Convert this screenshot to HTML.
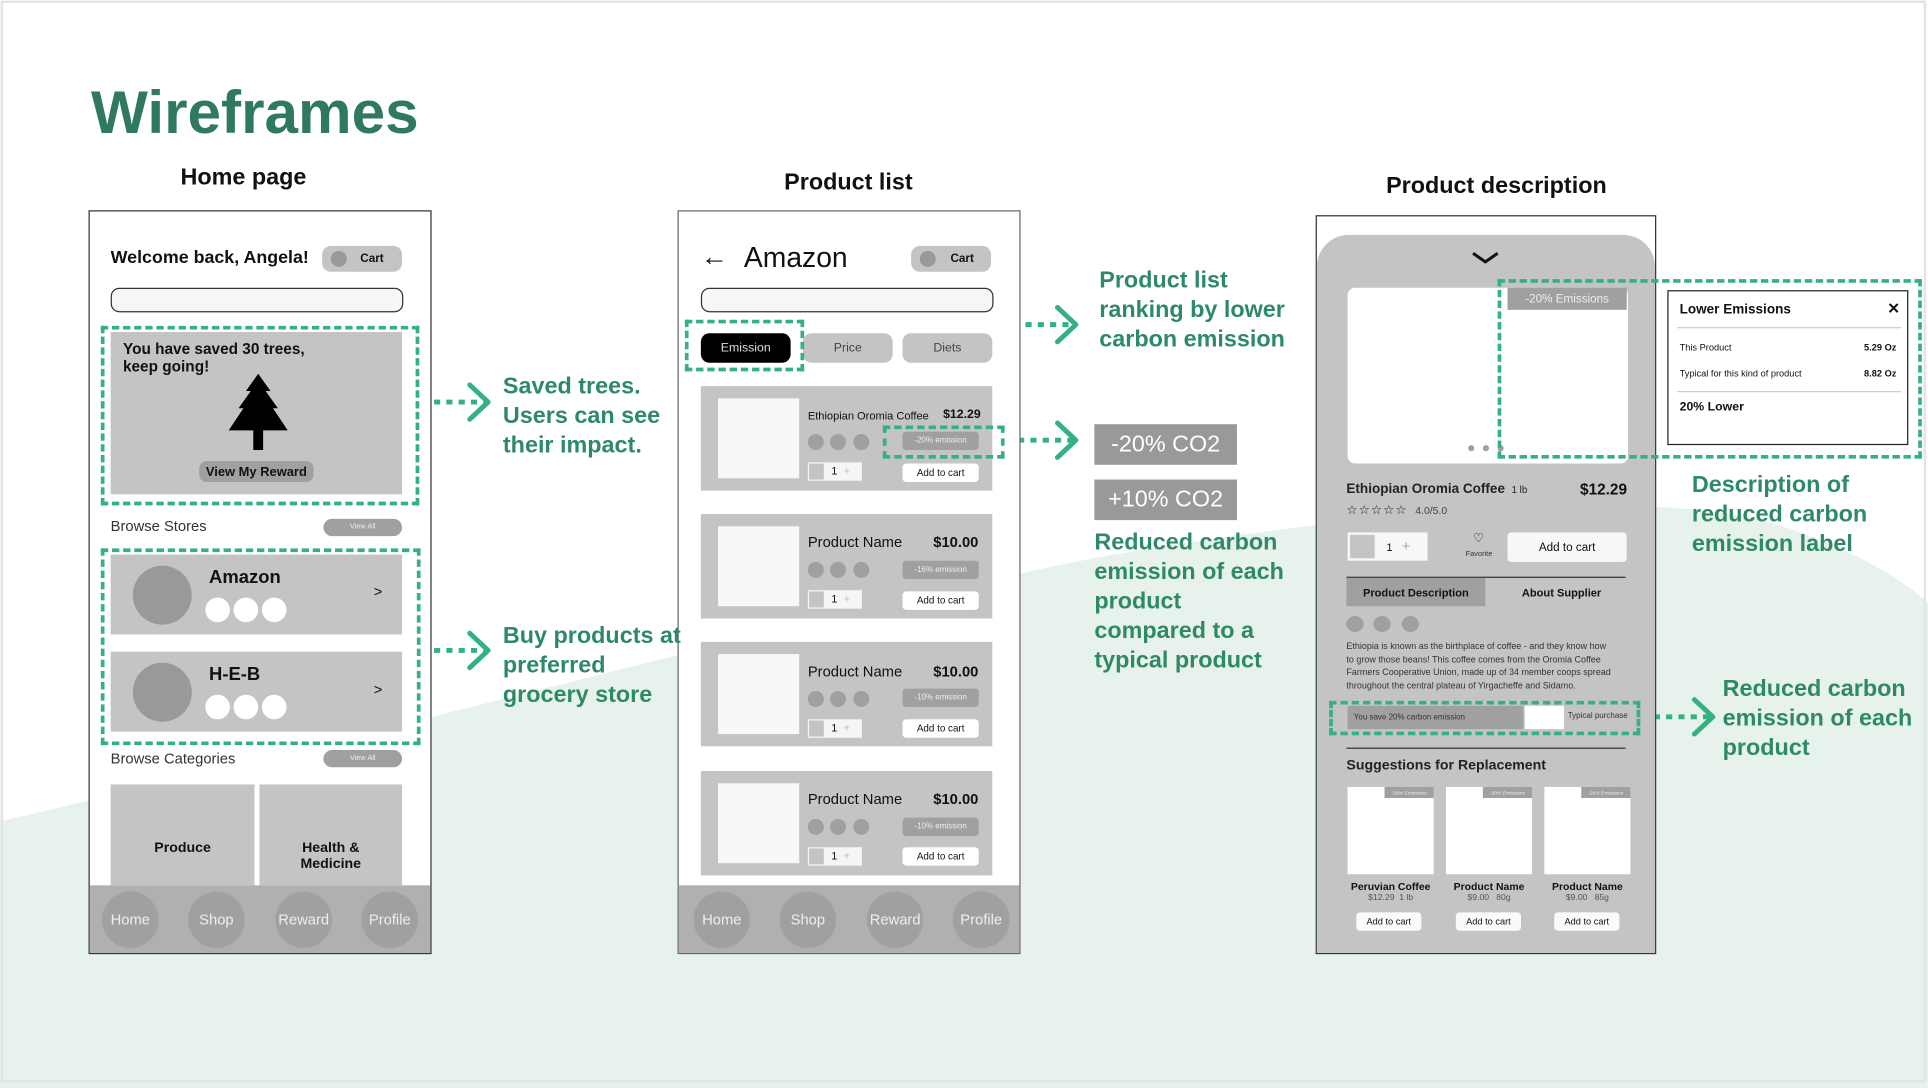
<!DOCTYPE html>
<html><head><meta charset="utf-8"><style>
*{margin:0;padding:0;box-sizing:border-box}
html,body{width:1928px;height:1088px;overflow:hidden;background:#fff}
#w{position:absolute;left:0;top:0;width:1568px;height:885px;transform:scale(1.22959);transform-origin:0 0;font-family:"Liberation Sans",sans-serif;color:#111}
.a{position:absolute}
.g{background:#c4c4c4}
.d{background:#a0a0a0}
.dash{position:absolute;border:3px dashed #35b083}
.ann{position:absolute;color:#2e8a66;font-size:19px;font-weight:bold;line-height:24px;white-space:nowrap}
.h{position:absolute;font-size:19px;font-weight:bold;transform:translateX(-50%);white-space:nowrap}
.pill{position:absolute;border-radius:7px}
.c{position:absolute;border-radius:50%}
.nav{position:absolute;background:#b0b0b0;height:55px;top:720px}
.nb{position:absolute;width:46px;height:46px;top:5px;border-radius:50%;background:#a0a0a0;color:#eee;font-size:12px;text-align:center;line-height:46px}
.ctr{display:flex;align-items:center;justify-content:center}
</style></head><body><div id="w">
<svg class="a" style="left:0;top:0" width="1568" height="885">
<path d="M0 668 C400 575 700 490 900 452 C1100 418 1330 395 1440 425 C1505 445 1545 470 1568 490 L1568 885 L0 885Z" fill="#e8f2ec"/>
<rect x="1.5" y="1.5" width="1564" height="878" fill="none" stroke="#e4e4e4" stroke-width="2"/>
<g stroke="#35b083" stroke-width="4" fill="none">
<line x1="343" y1="327" x2="395" y2="327" stroke-dasharray="5 5"/>
<polyline points="382,313 397,327 382,341" stroke-linecap="round" stroke-linejoin="round"/>
<line x1="343" y1="529" x2="395" y2="529" stroke-dasharray="5 5"/>
<polyline points="382,515 397,529 382,543" stroke-linecap="round" stroke-linejoin="round"/>
<line x1="654" y1="264" x2="872" y2="264" stroke-dasharray="5 5"/>
<polyline points="860,250 875,264 860,278" stroke-linecap="round" stroke-linejoin="round"/>
<line x1="818" y1="358" x2="872" y2="358" stroke-dasharray="5 5"/>
<polyline points="860,344 875,358 860,372" stroke-linecap="round" stroke-linejoin="round"/>
<line x1="1335" y1="583" x2="1390" y2="583" stroke-dasharray="5 5"/>
<polyline points="1378,569 1393,583 1378,597" stroke-linecap="round" stroke-linejoin="round"/>
</g>
</svg>

<div class="a" style="left:74px;top:64px;font-size:49px;font-weight:bold;color:#2f7a5e">Wireframes</div>
<div class="h" style="left:198px;top:134px">Home page</div>
<div class="h" style="left:690px;top:138px">Product list</div>
<div class="h" style="left:1217px;top:141px">Product description</div>

<!-- HOME -->
<div class="a" style="left:72px;top:171px;width:279px;height:605px;border:1.5px solid #333;background:#fff"></div>
<div class="a" style="left:90px;top:202px;font-size:14.5px;font-weight:bold">Welcome back, Angela!</div>
<div class="pill g" style="left:262px;top:200px;width:65px;height:21px"></div>
<div class="c" style="left:269px;top:204px;width:13px;height:13px;background:#999"></div>
<div class="a" style="left:293px;top:205px;font-size:9.5px;font-weight:bold">Cart</div>
<div class="a" style="left:90px;top:234px;width:238px;height:20px;border:1px solid #333;border-radius:7px;background:#f6f6f6"></div>
<div class="a g" style="left:90px;top:270px;width:237px;height:132px"></div>
<div class="a" style="left:100px;top:277px;font-size:12.5px;font-weight:bold;line-height:14px">You have saved 30 trees,<br>keep going!</div>
<svg class="a" style="left:184px;top:304px" width="52" height="66"><path d="M26 0 L36 14 L32 14 L42 28 L38 28 L50 46 L30 46 L30 62 L22 62 L22 46 L2 46 L14 28 L10 28 L20 14 L16 14Z" fill="#000"/></svg>
<div class="pill d ctr" style="left:162px;top:375px;width:93px;height:17px;font-size:10.5px;font-weight:bold;border-radius:6px">View My Reward</div>
<div class="dash" style="left:82px;top:265px;width:259px;height:146px"></div>
<div class="a" style="left:90px;top:421px;font-size:12px;color:#333">Browse Stores</div>
<div class="pill d ctr" style="left:263px;top:422px;width:64px;height:14px;font-size:6px;color:#eee">View All</div>
<div class="a g" style="left:90px;top:451px;width:237px;height:65px"></div>
<div class="c" style="left:108px;top:460px;width:48px;height:48px;background:#999"></div>
<div class="a" style="left:170px;top:461px;font-size:15px;font-weight:bold">Amazon</div>
<div class="c" style="left:167px;top:486px;width:20px;height:20px;background:#fff"></div>
<div class="c" style="left:190px;top:486px;width:20px;height:20px;background:#fff"></div>
<div class="c" style="left:213px;top:486px;width:20px;height:20px;background:#fff"></div>
<div class="a" style="left:304px;top:474px;font-size:12px">&gt;</div>
<div class="a g" style="left:90px;top:530px;width:237px;height:65px"></div>
<div class="c" style="left:108px;top:539px;width:48px;height:48px;background:#999"></div>
<div class="a" style="left:170px;top:540px;font-size:15px;font-weight:bold">H-E-B</div>
<div class="c" style="left:167px;top:565px;width:20px;height:20px;background:#fff"></div>
<div class="c" style="left:190px;top:565px;width:20px;height:20px;background:#fff"></div>
<div class="c" style="left:213px;top:565px;width:20px;height:20px;background:#fff"></div>
<div class="a" style="left:304px;top:554px;font-size:12px">&gt;</div>
<div class="dash" style="left:82px;top:446px;width:260px;height:160px"></div>
<div class="a" style="left:90px;top:610px;font-size:12px;color:#333">Browse Categories</div>
<div class="pill d ctr" style="left:263px;top:610px;width:64px;height:14px;font-size:6px;color:#eee">View All</div>
<div class="a g ctr" style="left:90px;top:638px;width:117px;height:82px;font-size:11.5px;font-weight:bold;padding-top:22px">Produce</div>
<div class="a g ctr" style="left:211px;top:638px;width:116px;height:82px;font-size:11.5px;font-weight:bold;text-align:center;line-height:13px;padding-top:36px">Health &amp;<br>Medicine</div>
<div class="nav" style="left:73px;width:277px"><div class="nb" style="left:10px">Home</div><div class="nb" style="left:80px">Shop</div><div class="nb" style="left:151px">Reward</div><div class="nb" style="left:221px">Profile</div></div>

<!-- PRODUCT LIST -->
<div class="a" style="left:551px;top:171px;width:279px;height:605px;border:1.5px solid #666;background:#fff"></div>
<div class="a" style="left:570px;top:196px;font-size:22px;font-weight:bold">&#8592;</div>
<div class="a" style="left:605px;top:196px;font-size:23px">Amazon</div>
<div class="pill g" style="left:741px;top:200px;width:65px;height:21px"></div>
<div class="c" style="left:748px;top:204px;width:13px;height:13px;background:#999"></div>
<div class="a" style="left:773px;top:205px;font-size:9.5px;font-weight:bold">Cart</div>
<div class="a" style="left:570px;top:234px;width:238px;height:20px;border:1px solid #333;border-radius:7px;background:#f6f6f6"></div>
<div class="pill ctr" style="left:570px;top:271px;width:73px;height:24px;background:#000;color:#ddd;font-size:10px">Emission</div>
<div class="pill g ctr" style="left:653px;top:271px;width:73px;height:24px;font-size:10px;color:#444">Price</div>
<div class="pill g ctr" style="left:734px;top:271px;width:73px;height:24px;font-size:10px;color:#444">Diets</div>
<div class="dash" style="left:557px;top:260px;width:97px;height:42px"></div>

<div class="a g" style="left:570px;top:314px;width:237px;height:85px"></div>
<div class="a g" style="left:570px;top:418px;width:237px;height:85px"></div>
<div class="a g" style="left:570px;top:522px;width:237px;height:85px"></div>
<div class="a g" style="left:570px;top:627px;width:237px;height:85px"></div>
<div class="a" style="left:584px;top:324px;width:66px;height:65px;background:#f8f8f8"></div>
<div class="a" style="left:584px;top:428px;width:66px;height:65px;background:#f8f8f8"></div>
<div class="a" style="left:584px;top:532px;width:66px;height:65px;background:#f8f8f8"></div>
<div class="a" style="left:584px;top:637px;width:66px;height:65px;background:#f8f8f8"></div>
<div class="a" style="left:657px;top:333px;font-size:9px">Ethiopian Oromia Coffee</div>
<div class="a" style="left:767px;top:332px;font-size:10px;font-weight:bold">$12.29</div>
<div class="a" style="left:657px;top:434px;font-size:12px">Product Name</div><div class="a" style="left:759px;top:434px;font-size:12px;font-weight:bold">$10.00</div>
<div class="a" style="left:657px;top:539px;font-size:12px">Product Name</div><div class="a" style="left:759px;top:539px;font-size:12px;font-weight:bold">$10.00</div>
<div class="a" style="left:657px;top:643px;font-size:12px">Product Name</div><div class="a" style="left:759px;top:643px;font-size:12px;font-weight:bold">$10.00</div>
<div class="c d" style="left:657px;top:353px;width:13px;height:13px"></div><div class="c d" style="left:675px;top:353px;width:13px;height:13px"></div><div class="c d" style="left:694px;top:353px;width:13px;height:13px"></div>
<div class="c d" style="left:657px;top:457px;width:13px;height:13px"></div><div class="c d" style="left:675px;top:457px;width:13px;height:13px"></div><div class="c d" style="left:694px;top:457px;width:13px;height:13px"></div>
<div class="c d" style="left:657px;top:562px;width:13px;height:13px"></div><div class="c d" style="left:675px;top:562px;width:13px;height:13px"></div><div class="c d" style="left:694px;top:562px;width:13px;height:13px"></div>
<div class="c d" style="left:657px;top:666px;width:13px;height:13px"></div><div class="c d" style="left:675px;top:666px;width:13px;height:13px"></div><div class="c d" style="left:694px;top:666px;width:13px;height:13px"></div>
<div class="pill d ctr" style="left:734px;top:351px;width:62px;height:15px;font-size:6.5px;color:#eee;border-radius:3px">-20% emission</div>
<div class="pill d ctr" style="left:734px;top:456px;width:62px;height:15px;font-size:6.5px;color:#eee;border-radius:3px">-16% emission</div>
<div class="pill d ctr" style="left:734px;top:560px;width:62px;height:15px;font-size:6.5px;color:#eee;border-radius:3px">-10% emission</div>
<div class="pill d ctr" style="left:734px;top:665px;width:62px;height:15px;font-size:6.5px;color:#eee;border-radius:3px">-10% emission</div>
<div class="pill ctr" style="left:734px;top:377px;width:62px;height:15px;font-size:8px;background:#fff;border-radius:3px">Add to cart</div>
<div class="pill ctr" style="left:734px;top:481px;width:62px;height:15px;font-size:8px;background:#fff;border-radius:3px">Add to cart</div>
<div class="pill ctr" style="left:734px;top:585px;width:62px;height:15px;font-size:8px;background:#fff;border-radius:3px">Add to cart</div>
<div class="pill ctr" style="left:734px;top:689px;width:62px;height:15px;font-size:8px;background:#fff;border-radius:3px">Add to cart</div>
<div class="a" style="left:657px;top:376px;width:44px;height:15px;background:#f5f5f5;font-size:9px;line-height:15px"><span style="display:inline-block;width:12px;height:13px;background:#c4c4c4;margin:1px;vertical-align:top"></span> &nbsp;1 &nbsp;<span style="color:#bbb">+</span></div>
<div class="a" style="left:657px;top:480px;width:44px;height:15px;background:#f5f5f5;font-size:9px;line-height:15px"><span style="display:inline-block;width:12px;height:13px;background:#c4c4c4;margin:1px;vertical-align:top"></span> &nbsp;1 &nbsp;<span style="color:#bbb">+</span></div>
<div class="a" style="left:657px;top:585px;width:44px;height:15px;background:#f5f5f5;font-size:9px;line-height:15px"><span style="display:inline-block;width:12px;height:13px;background:#c4c4c4;margin:1px;vertical-align:top"></span> &nbsp;1 &nbsp;<span style="color:#bbb">+</span></div>
<div class="a" style="left:657px;top:689px;width:44px;height:15px;background:#f5f5f5;font-size:9px;line-height:15px"><span style="display:inline-block;width:12px;height:13px;background:#c4c4c4;margin:1px;vertical-align:top"></span> &nbsp;1 &nbsp;<span style="color:#bbb">+</span></div>
<div class="dash" style="left:718px;top:346px;width:99px;height:27px"></div>
<div class="nav" style="left:552px;width:277px"><div class="nb" style="left:12px">Home</div><div class="nb" style="left:82px">Shop</div><div class="nb" style="left:153px">Reward</div><div class="nb" style="left:223px">Profile</div></div>

<!-- annotations -->
<div class="ann" style="left:409px;top:303px">Saved trees.<br>Users can see<br>their impact.</div>
<div class="ann" style="left:409px;top:506px">Buy products at<br>preferred<br>grocery store</div>
<div class="ann" style="left:894px;top:217px">Product list<br>ranking by lower<br>carbon emission</div>
<div class="a ctr" style="left:890px;top:345px;width:116px;height:33px;background:#999;color:#fff;font-size:19px">-20% CO2</div>
<div class="a ctr" style="left:890px;top:390px;width:116px;height:33px;background:#999;color:#fff;font-size:19px">+10% CO2</div>
<div class="ann" style="left:890px;top:430px">Reduced carbon<br>emission of each<br>product<br>compared to a<br>typical product</div>
<div class="ann" style="left:1376px;top:383px">Description of<br>reduced carbon<br>emission label</div>
<div class="ann" style="left:1401px;top:549px">Reduced carbon<br>emission of each<br>product</div>

<!-- PRODUCT DESCRIPTION -->
<div class="a" style="left:1070px;top:175px;width:277px;height:601px;border:1.5px solid #333;background:#fff"></div>
<div class="a g" style="left:1071px;top:191px;width:275px;height:584px;border-radius:26px 26px 0 0"></div>
<svg class="a" style="left:1196px;top:204px" width="24" height="12"><polyline points="2,2 12,9 22,2" fill="none" stroke="#111" stroke-width="2.5"/></svg>
<div class="a" style="left:1096px;top:234px;width:228px;height:143px;background:#fff;border-radius:6px"></div>
<div class="a d ctr" style="left:1226px;top:234px;width:97px;height:18px;color:#eee;font-size:9.5px">-20% Emissions</div>
<div class="c d" style="left:1194px;top:362px;width:5px;height:5px"></div><div class="c d" style="left:1206px;top:362px;width:5px;height:5px"></div><div class="c d" style="left:1218px;top:362px;width:5px;height:5px"></div>
<div class="dash" style="left:1218px;top:227px;width:345px;height:146px"></div>
<div class="a" style="left:1356px;top:236px;width:196px;height:126px;background:#fff;border:1.5px solid #222"></div>
<div class="a" style="left:1366px;top:246px;font-size:11px;font-weight:bold">Lower Emissions</div>
<div class="a" style="left:1535px;top:244px;font-size:12px;font-weight:bold">✕</div>
<div class="a" style="left:1364px;top:266px;width:182px;height:1px;background:#ccc"></div>
<div class="a" style="left:1366px;top:278px;font-size:7.5px">This Product</div><div class="a" style="left:1516px;top:278px;font-size:7.5px;font-weight:bold">5.29 Oz</div>
<div class="a" style="left:1366px;top:299px;font-size:7.5px">Typical for this kind of product</div><div class="a" style="left:1516px;top:299px;font-size:7.5px;font-weight:bold">8.82 Oz</div>
<div class="a" style="left:1364px;top:318px;width:182px;height:1px;background:#ccc"></div>
<div class="a" style="left:1366px;top:326px;font-size:10px;font-weight:bold">20% Lower</div>

<div class="a" style="left:1095px;top:392px;font-size:11px;font-weight:bold;color:#222">Ethiopian Oromia Coffee <span style="font-size:8px;font-weight:normal">&nbsp;1 lb</span></div>
<div class="a" style="left:1285px;top:391px;font-size:12.5px;font-weight:bold">$12.29</div>
<div class="a" style="left:1095px;top:410px;font-size:10px;letter-spacing:1px">☆☆☆☆☆ <span style="font-size:8.5px;color:#444;letter-spacing:0">&nbsp;4.0/5.0</span></div>
<div class="a" style="left:1096px;top:433px;width:65px;height:23px;background:#f7f7f7;font-size:9px;line-height:23px"><span style="display:inline-block;width:20px;height:19px;background:#c4c4c4;margin:2px;vertical-align:top"></span> &nbsp;&nbsp;1 &nbsp;&nbsp;<span style="color:#aaa;font-size:12px">+</span></div>
<div class="a" style="left:1198px;top:433px;font-size:10px">♡</div>
<div class="a" style="left:1192px;top:448px;font-size:6px;color:#333">Favorite</div>
<div class="pill ctr" style="left:1226px;top:433px;width:97px;height:24px;background:#f7f7f7;font-size:9.5px;border-radius:3px">Add to cart</div>
<div class="a" style="left:1095px;top:469px;width:227px;height:1px;background:#333"></div>
<div class="a d ctr" style="left:1095px;top:470px;width:113px;height:23px;font-size:9px;font-weight:bold">Product Description</div>
<div class="a ctr" style="left:1215px;top:470px;width:110px;height:23px;font-size:9px;font-weight:bold">About Supplier</div>
<div class="c d" style="left:1095px;top:501px;width:14px;height:13px"></div><div class="c d" style="left:1117px;top:501px;width:14px;height:13px"></div><div class="c d" style="left:1140px;top:501px;width:14px;height:13px"></div>
<div class="a" style="left:1095px;top:521px;font-size:7.3px;line-height:10.5px;color:#333;white-space:nowrap">Ethiopia is known as the birthplace of coffee - and they know how<br>to grow those beans! This coffee comes from the Oromia Coffee<br>Farmers Cooperative Union, made up of 34 member coops spread<br>throughout the central plateau of Yirgacheffe and Sidamo.</div>
<div class="a d" style="left:1096px;top:574px;width:143px;height:19px;font-size:6.5px;line-height:19px;padding-left:5px;color:#333">You save 20% carbon emission</div>
<div class="a" style="left:1240px;top:574px;width:32px;height:19px;background:#fff"></div>
<div class="a" style="left:1275px;top:579px;font-size:6.5px;color:#333">Typical purchase</div>
<div class="dash" style="left:1081px;top:570px;width:253px;height:28px"></div>
<div class="a" style="left:1095px;top:608px;width:227px;height:1px;background:#333"></div>
<div class="a" style="left:1095px;top:617px;font-size:11.5px;font-weight:bold;color:#222">Suggestions for Replacement</div>
<div class="a" style="left:1096px;top:640px;width:70px;height:71px;background:#fff"></div>
<div class="a" style="left:1176px;top:640px;width:70px;height:71px;background:#fff"></div>
<div class="a" style="left:1256px;top:640px;width:70px;height:71px;background:#fff"></div>
<div class="a d ctr" style="left:1126px;top:640px;width:40px;height:9px;font-size:4px;color:#eee">-30% Emissions</div>
<div class="a d ctr" style="left:1206px;top:640px;width:40px;height:9px;font-size:4px;color:#eee">-30% Emissions</div>
<div class="a d ctr" style="left:1286px;top:640px;width:40px;height:9px;font-size:4px;color:#eee">-28% Emissions</div>
<div class="a" style="left:1096px;top:716px;width:70px;text-align:center;font-size:8.5px;font-weight:bold">Peruvian Coffee<div style="font-size:7px;font-weight:normal;color:#555;margin-top:1px">$12.29 &nbsp;1 lb</div></div>
<div class="a" style="left:1176px;top:716px;width:70px;text-align:center;font-size:8.5px;font-weight:bold">Product Name<div style="font-size:7px;font-weight:normal;color:#555;margin-top:1px">$9.00 &nbsp;&nbsp;80g</div></div>
<div class="a" style="left:1256px;top:716px;width:70px;text-align:center;font-size:8.5px;font-weight:bold">Product Name<div style="font-size:7px;font-weight:normal;color:#555;margin-top:1px">$9.00 &nbsp;&nbsp;85g</div></div>
<div class="pill ctr" style="left:1103px;top:742px;width:53px;height:15px;background:#fafafa;font-size:7.5px;border-radius:3px">Add to cart</div>
<div class="pill ctr" style="left:1184px;top:742px;width:53px;height:15px;background:#fafafa;font-size:7.5px;border-radius:3px">Add to cart</div>
<div class="pill ctr" style="left:1264px;top:742px;width:53px;height:15px;background:#fafafa;font-size:7.5px;border-radius:3px">Add to cart</div>
</div></body></html>
